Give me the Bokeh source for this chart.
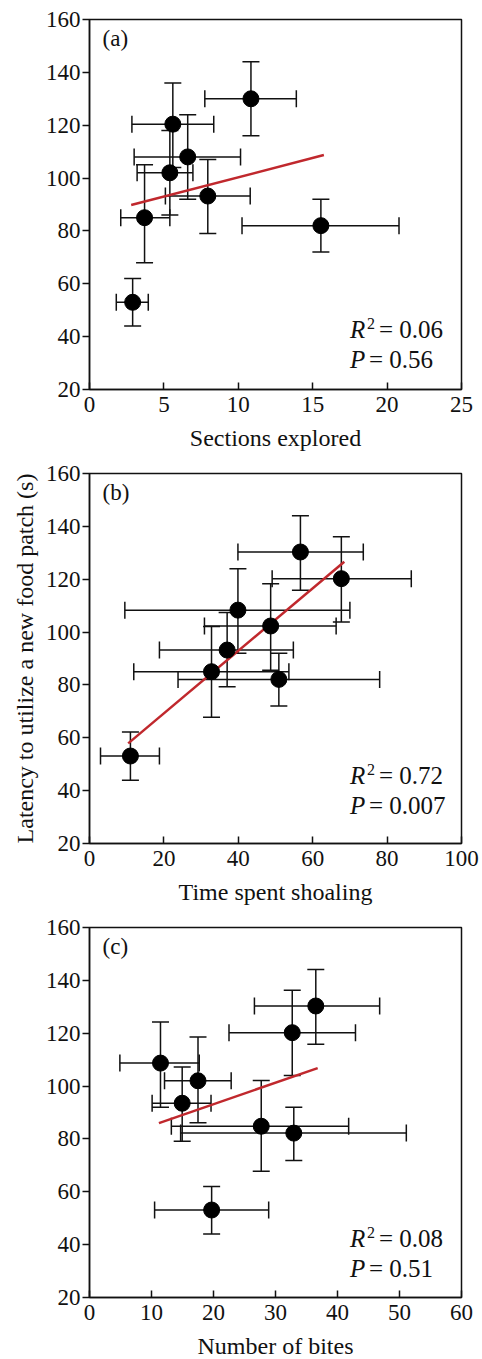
from bokeh.plotting import figure
from bokeh.models import ColumnDataSource, Whisker, TeeHead, Label, Range1d, FixedTicker
from bokeh.layouts import column
from bokeh.embed import file_html
from bokeh.resources import INLINE

# ---------------- data ----------------
# Panel (a): sections explored
xa = [2.9, 3.7, 5.4, 5.6, 6.6, 7.95, 10.85, 15.55]
ya = [53, 85, 102, 120.4, 108, 93.2, 130, 82]
xa_lo = [1.8, 2.1, 3.2, 2.85, 3.0, 5.1, 7.75, 10.25]
xa_hi = [3.95, 5.4, 6.95, 8.35, 10.15, 10.8, 13.9, 20.8]
ya_lo = [44, 68, 86, 104, 92, 79, 116, 72]
ya_hi = [62, 105, 118, 136, 124, 107, 144, 92]
fit_xa = [2.8, 15.75]
fit_ya = [89.8, 108.7]

# Panel (b): time spent shoaling
xb = [11.0, 32.8, 37.0, 39.9, 48.7, 50.9, 56.7, 67.7]
yb = [53.1, 85.0, 93.2, 108.3, 102.3, 82.1, 130.3, 120.2]
xb_lo = [2.96, 11.9, 18.8, 9.5, 30.9, 23.8, 39.9, 49.1]
xb_hi = [18.8, 53.6, 54.8, 70.0, 66.3, 78.0, 73.6, 86.5]
yb_lo = [43.9, 67.8, 79.3, 92.0, 85.6, 72.0, 115.8, 103.8]
yb_hi = [62.2, 102.1, 107.4, 124.0, 118.3, 92.0, 144.0, 136.1]
fit_xb = [10.4, 68.5]
fit_yb = [57.9, 126.6]

# Panel (c): number of bites
xc = [11.45, 17.5, 14.95, 27.7, 32.95, 32.7, 36.5, 19.7]
yc = [108.7, 102.0, 93.5, 84.8, 82.2, 120.2, 130.3, 53.1]
xc_lo = [4.9, 12.1, 10.1, 13.2, 14.7, 22.5, 26.6, 10.5]
xc_hi = [17.7, 22.85, 19.6, 41.8, 51.1, 42.9, 46.8, 28.9]
yc_lo = [92.0, 86.1, 79.1, 67.8, 71.8, 104.0, 115.8, 44.0]
yc_hi = [124.2, 118.6, 107.2, 102.1, 92.0, 136.3, 144.1, 62.0]
fit_xc = [11.2, 36.8]
fit_yc = [86.0, 106.8]

y_ticks = [20, 40, 60, 80, 100, 120, 140, 160]
xa_ticks = [0, 5, 10, 15, 20, 25]
xb_ticks = [0, 20, 40, 60, 80, 100]
xc_ticks = [0, 10, 20, 30, 40, 50, 60]

panels = [
    dict(tag="(a)", x=xa, y=ya, xlo=xa_lo, xhi=xa_hi, ylo=ya_lo, yhi=ya_hi,
         fx=fit_xa, fy=fit_ya, xticks=xa_ticks, xlabel="Sections explored",
         r2="0.06", p="0.56", r2f=0.163, pf=0.081, ylabel=None, top=19, height=462),
    dict(tag="(b)", x=xb, y=yb, xlo=xb_lo, xhi=xb_hi, ylo=yb_lo, yhi=yb_hi,
         fx=fit_xb, fy=fit_yb, xticks=xb_ticks, xlabel="Time spent shoaling",
         r2="0.72", p="0.007", r2f=0.184, pf=0.103,
         ylabel="Latency to utilize a new food patch (s)", top=11, height=454),
    dict(tag="(c)", x=xc, y=yc, xlo=xc_lo, xhi=xc_hi, ylo=yc_lo, yhi=yc_hi,
         fx=fit_xc, fy=fit_yc, xticks=xc_ticks, xlabel="Number of bites",
         r2="0.08", p="0.51", r2f=0.159, pf=0.078, ylabel=None, top=11, height=440),
]

FONT = "Liberation Serif"
INK = "#111111"
RED = "#c0282d"

figs = []
for pn in panels:
    x0, x1 = pn["xticks"][0], pn["xticks"][-1]
    y0, y1 = y_ticks[0], y_ticks[-1]
    p = figure(frame_width=372, frame_height=370, output_backend="svg",
               toolbar_location=None, x_range=Range1d(x0, x1), y_range=Range1d(y0, y1),
               min_border_left=89, min_border_right=20, min_border_top=pn["top"],
               min_border_bottom=pn["height"] - 370 - pn["top"])
    p.background_fill_color = "white"
    p.border_fill_color = "white"
    p.outline_line_color = INK
    p.outline_line_width = 1.5
    p.xgrid.visible = False
    p.ygrid.visible = False

    p.xaxis.ticker = FixedTicker(ticks=pn["xticks"])
    p.yaxis.ticker = FixedTicker(ticks=y_ticks)
    for ax in (p.xaxis, p.yaxis):
        ax.axis_line_color = INK
        ax.axis_line_width = 1.5
        ax.major_tick_line_color = INK
        ax.major_tick_line_width = 1.5
        ax.minor_tick_line_color = None
        ax.major_label_text_font = FONT
        ax.major_label_text_font_size = "23px"
        ax.major_label_text_color = INK
        ax.axis_label_text_font = FONT
        ax.axis_label_text_font_size = "24px"
        ax.axis_label_text_font_style = "normal"
        ax.axis_label_text_color = INK
    p.xaxis.major_tick_in = 7
    p.xaxis.major_tick_out = 0
    p.yaxis.major_tick_in = 0
    p.yaxis.major_tick_out = 7
    p.xaxis.major_label_standoff = 7
    p.yaxis.major_label_standoff = 2
    p.xaxis.axis_label = pn["xlabel"]
    p.xaxis.axis_label_standoff = 10
    if pn["ylabel"]:
        p.yaxis.axis_label = pn["ylabel"]
        p.yaxis.axis_label_standoff = 5

    src = ColumnDataSource(dict(x=pn["x"], y=pn["y"], xlo=pn["xlo"], xhi=pn["xhi"],
                                ylo=pn["ylo"], yhi=pn["yhi"]))
    wy = Whisker(base="x", lower="ylo", upper="yhi", dimension="height", source=src,
                 line_color=INK, line_width=1.5,
                 upper_head=TeeHead(size=17, line_color=INK, line_width=1.5),
                 lower_head=TeeHead(size=17, line_color=INK, line_width=1.5))
    wx = Whisker(base="y", lower="xlo", upper="xhi", dimension="width", source=src,
                 line_color=INK, line_width=1.5,
                 upper_head=TeeHead(size=17, line_color=INK, line_width=1.5),
                 lower_head=TeeHead(size=17, line_color=INK, line_width=1.5))
    p.add_layout(wy)
    p.add_layout(wx)

    p.line(pn["fx"], pn["fy"], line_color=RED, line_width=2.5)
    p.scatter("x", "y", source=src, size=16, fill_color="black", line_color="black")

    xr = x1 - x0
    yr = y1 - y0
    p.add_layout(Label(x=x0 + 0.035 * xr, y=y0 + 0.95 * yr, text=pn["tag"],
                       text_font=FONT, text_font_size="23px", text_color=INK,
                       text_baseline="middle"))
    lx = x0 + 0.70 * xr
    ry = y0 + pn["r2f"] * yr
    py = y0 + pn["pf"] * yr
    p.add_layout(Label(x=lx, y=ry, text="R", text_font=FONT, text_font_size="25px",
                       text_font_style="italic", text_color=INK, text_baseline="middle"))
    p.add_layout(Label(x=lx, y=ry, x_offset=17, y_offset=6, text="2", text_font=FONT,
                       text_font_size="16px", text_color=INK, text_baseline="middle"))
    p.add_layout(Label(x=lx, y=ry, x_offset=29, text="= " + pn["r2"], text_font=FONT,
                       text_font_size="25px", text_color=INK, text_baseline="middle"))
    p.add_layout(Label(x=lx, y=py, text="P", text_font=FONT, text_font_size="25px",
                       text_font_style="italic", text_color=INK, text_baseline="middle"))
    p.add_layout(Label(x=lx, y=py, x_offset=19, text="= " + pn["p"], text_font=FONT,
                       text_font_size="25px", text_color=INK, text_baseline="middle"))
    figs.append(p)

layout = column(*figs, spacing=0)
open("out.html", "w").write(file_html(layout, INLINE))
